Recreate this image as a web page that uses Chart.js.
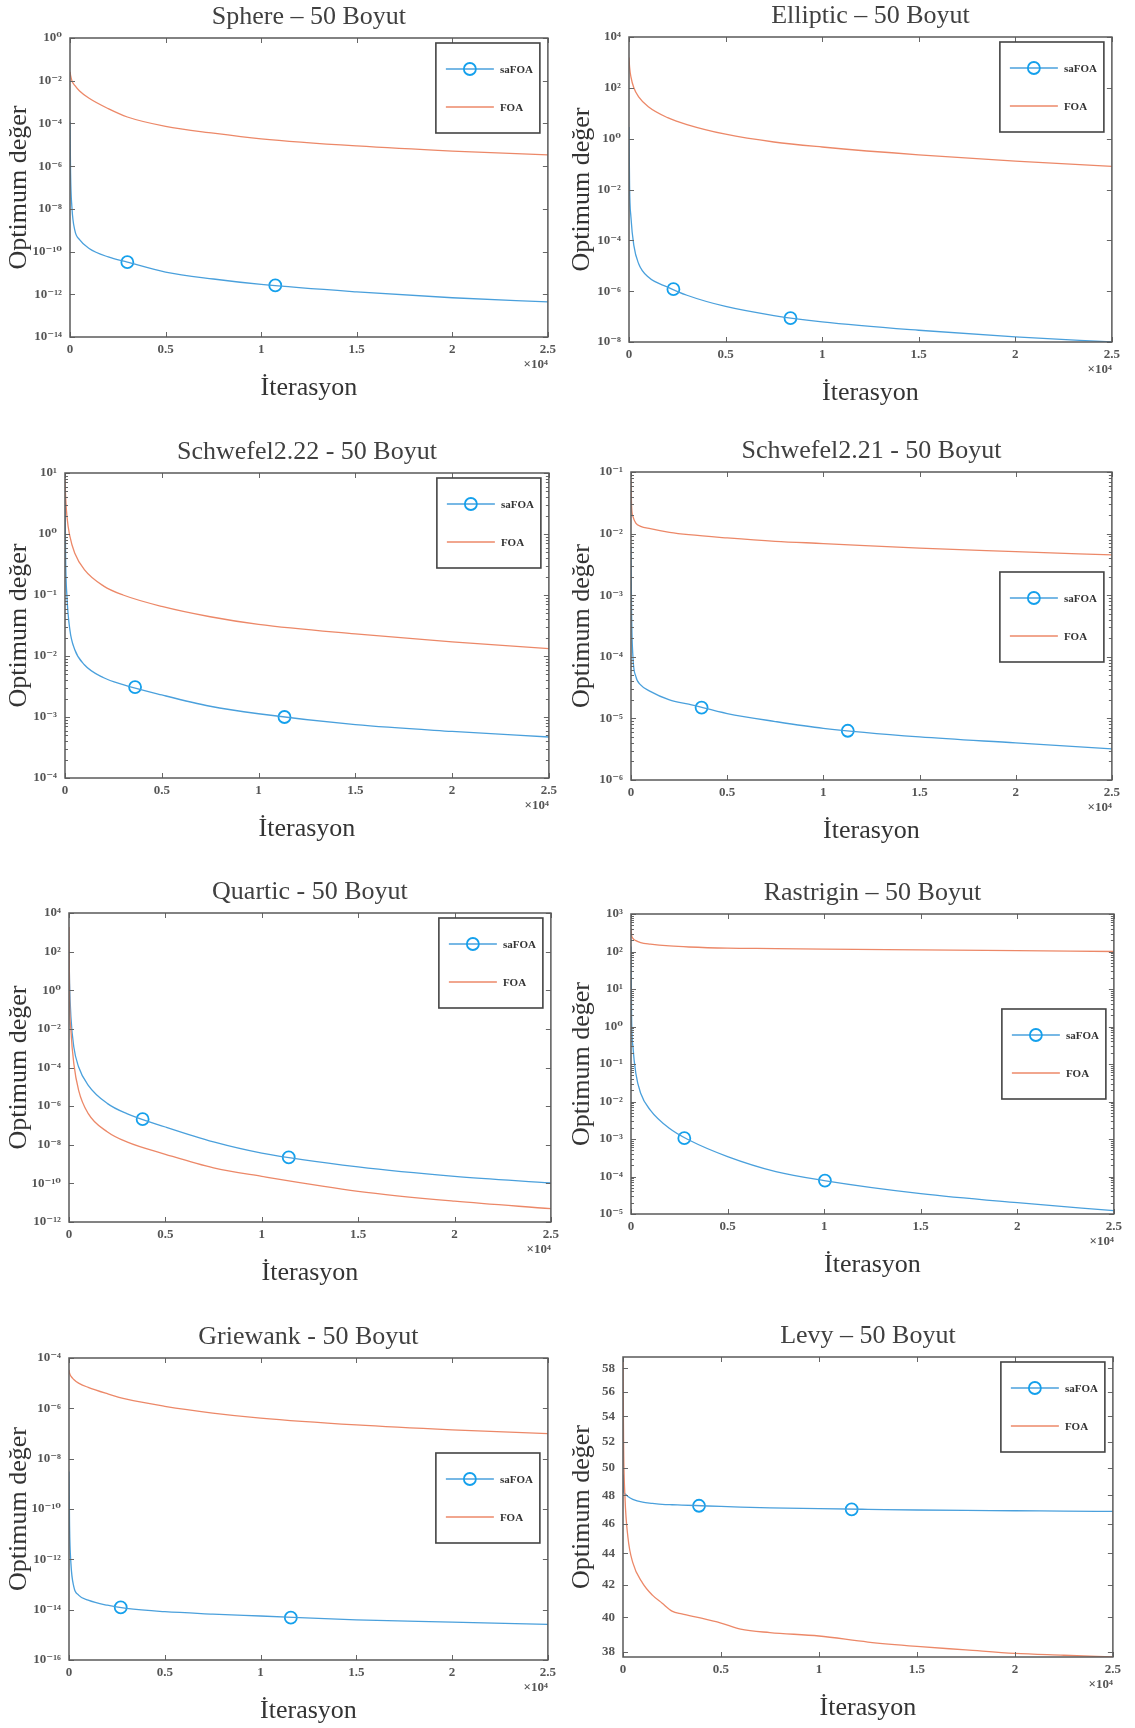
<!DOCTYPE html>
<html>
<head>
<meta charset="utf-8">
<script src="https://cdn.jsdelivr.net/npm/chart.js@4.4.1/dist/chart.umd.min.js"></script>
<style>
  body { margin: 0; background: #fff; }
  #page { position: relative; width: 1135px; height: 1728px; overflow: hidden; background: #fff; }
  #page canvas { position: absolute; }
</style>
</head>
<body>
<div id="page"></div>
<script>
// shared iteration grid and x axis ticks
const iters = [0, 30, 100, 250, 500, 1000, 2000, 3000, 5000, 7500, 10000, 15000, 20000, 25000];
const xTicks = [0, 5000, 10000, 15000, 20000, 25000];
const xTickLabels = ['0', '0.5', '1', '1.5', '2', '2.5'];

// Sphere
const sphereSa = [1.2e-4, 4.5e-7, 1.2e-8, 1e-9, 3.6e-10, 1.4e-10, 5.6e-11, 3.2e-11, 1.1e-11, 5.2e-12, 2.9e-12, 1.3e-12, 6.9e-13, 4.4e-13];
const sphereFoa = [2.6e-2, 1.8e-2, 1.0e-2, 6e-3, 3.3e-3, 1.5e-3, 4.9e-4, 2e-4, 7.3e-5, 3.5e-5, 1.9e-5, 8.8e-6, 5.1e-6, 3.4e-6];
const sphereMarkIter = [3000, 10740];
const sphereMarkVal = [3.2e-11, 2.6e-12];
const sphereTicks = [0, -2, -4, -6, -8, -10, -12, -14];

// Elliptic
const ellipticSa = [2.9, 1.3e-2, 8.3e-4, 6.3e-5, 1.2e-5, 3.6e-6, 1.45e-6, 6.9e-7, 2.5e-7, 1.1e-7, 6.2e-8, 2.9e-8, 1.6e-8, 1.0e-8];
const ellipticFoa = [1550, 660, 270, 100, 44, 18, 6.7, 3.6, 1.5, 0.74, 0.47, 0.23, 0.13, 0.081];
const ellipticMarkIter = [2300, 8360];
const ellipticMarkVal = [1.2e-6, 8.7e-8];
const ellipticTicks = [4, 2, 0, -2, -4, -6, -8];

// Schwefel 2.22
const schw222Sa = [5.3, 0.43, 0.095, 0.027, 0.0128, 7.2e-3, 4.4e-3, 3.4e-3, 2.3e-3, 1.5e-3, 1.13e-3, 7.5e-4, 5.8e-4, 4.7e-4];
const schw222Foa = [7.8, 4.2, 1.95, 0.92, 0.49, 0.26, 0.14, 0.1, 0.065, 0.044, 0.033, 0.023, 0.017, 0.0132];
const schw222MarkIter = [3620, 11340];
const schw222MarkVal = [3.1e-3, 1.0e-3];
const schw222Ticks = [1, 0, -1, -2, -3, -4];

// Schwefel 2.21
const schw221Sa = [6.2e-3, 5.1e-4, 1e-4, 4.8e-5, 3.5e-5, 2.75e-5, 2.0e-5, 1.7e-5, 1.2e-5, 8.9e-6, 6.9e-6, 5.0e-6, 4.0e-6, 3.2e-6];
const schw221Foa = [0.08, 0.0277, 0.019, 0.0148, 0.0131, 0.012, 0.0105, 9.6e-3, 8.5e-3, 7.5e-3, 6.9e-3, 5.8e-3, 5.1e-3, 4.5e-3];
const schw221MarkIter = [3670, 11270];
const schw221MarkVal = [1.5e-5, 6.3e-6];
const schw221Ticks = [-1, -2, -3, -4, -5, -6];

// Quartic
const quarticSa = [117, 2.2, 0.041, 1.15e-3, 1.07e-4, 1.2e-5, 1.35e-6, 4.1e-7, 8.3e-8, 1.4e-8, 3.7e-9, 7.1e-10, 2.3e-10, 1.05e-10];
const quarticFoa = [1900, 0.45, 8.3e-3, 1.6e-4, 6.6e-6, 4.1e-7, 4.6e-8, 1.4e-8, 3.2e-9, 6.3e-10, 2.3e-10, 3.9e-11, 1.2e-11, 4.9e-12];
const quarticMarkIter = [3820, 11400];
const quarticMarkVal = [2.1e-7, 2.2e-9];
const quarticTicks = [4, 2, 0, -2, -4, -6, -8, -10, -12];

// Rastrigin
const rastSa = [135, 1.8, 0.29, 0.056, 0.0166, 5.9e-3, 1.9e-3, 9.4e-4, 3.4e-4, 1.35e-4, 7.8e-5, 3.5e-5, 2.0e-5, 1.23e-5];
const rastFoa = [415, 275, 224, 195, 173, 158, 141, 132, 123, 120, 115, 110, 105, 100];
const rastMarkIter = [2760, 10040];
const rastMarkVal = [1.05e-3, 7.8e-5];
const rastTicks = [3, 2, 1, 0, -1, -2, -3, -4, -5];

// Griewank
const griewSa = [3.1e-9, 2e-11, 6.9e-13, 8.3e-14, 3.8e-14, 2.4e-14, 1.5e-14, 1.12e-14, 8.3e-15, 6.7e-15, 5.6e-15, 3.9e-15, 3.2e-15, 2.6e-15];
const griewFoa = [3.4e-5, 2.5e-5, 1.9e-5, 1.4e-5, 1.0e-5, 6.8e-6, 3.8e-6, 2.3e-6, 1.2e-6, 6.5e-7, 4.1e-7, 2.2e-7, 1.4e-7, 9.8e-8];
const griewMarkIter = [2700, 11580];
const griewMarkVal = [1.23e-14, 4.8e-15];
const griewTicks = [-4, -6, -8, -10, -12, -14, -16];

// Levy (own iteration grid, the FOA curve is stepped)
const levyIters = [0, 30, 100, 250, 500, 1000, 1500, 2000, 2500, 3000, 4000, 5000, 6000, 7500, 10000, 12500, 15000, 17500, 20000, 22500, 25000];
const levySa = [49.5, 48.25, 48.1, 47.9, 47.7, 47.5, 47.42, 47.35, 47.32, 47.3, 47.25, 47.2, 47.16, 47.1, 47.05, 47.0, 46.95, 46.92, 46.9, 46.87, 46.85];
const levyFoa = [59.0, 51.9, 47.9, 45.1, 43.4, 42.1, 41.35, 40.85, 40.37, 40.2, 39.95, 39.66, 39.3, 39.1, 38.9, 38.55, 38.3, 38.1, 37.9, 37.8, 37.7];
const levyMarkIter = [3880, 11670];
const levyMarkVal = [47.25, 47.0];
const levyTicks = [38, 40, 42, 44, 46, 48, 50, 52, 54, 56, 58];

const BLUE = '#4aa0dc';
const ORANGE = '#ec8868';
const MARKER = '#14a0ec';
const SERIF = '"Liberation Serif", "DejaVu Serif", serif';

const SUP = { '0': '⁰', '1': '¹', '2': '²', '3': '³', '4': '⁴', '5': '⁵', '6': '⁶', '7': '⁷', '8': '⁸', '9': '⁹', '-': '⁻' };
const pow10Label = (e) => '10' + String(e).split('').map(c => SUP[c]).join('');

// plot boxes [left, top, right, bottom] measured on the page
const panels = [
  { title: 'Sphere – 50 Boyut', x: iters, sa: sphereSa, foa: sphereFoa, mi: sphereMarkIter, mv: sphereMarkVal, exps: sphereTicks, box: [70, 38, 549, 337], yGap: 50, legTop: 5 },
  { title: 'Elliptic – 50 Boyut', x: iters, sa: ellipticSa, foa: ellipticFoa, mi: ellipticMarkIter, mv: ellipticMarkVal, exps: ellipticTicks, box: [629, 37, 1113, 342], yGap: 46, legTop: 5 },
  { title: 'Schwefel2.22 - 50 Boyut', x: iters, sa: schw222Sa, foa: schw222Foa, mi: schw222MarkIter, mv: schw222MarkVal, exps: schw222Ticks, minor: true, box: [65, 473, 550, 778], yGap: 45, legTop: 5 },
  { title: 'Schwefel2.21 - 50 Boyut', x: iters, sa: schw221Sa, foa: schw221Foa, mi: schw221MarkIter, mv: schw221MarkVal, exps: schw221Ticks, minor: true, box: [631, 472, 1113, 780], yGap: 48, legTop: 100 },
  { title: 'Quartic - 50 Boyut', x: iters, sa: quarticSa, foa: quarticFoa, mi: quarticMarkIter, mv: quarticMarkVal, exps: quarticTicks, box: [69, 913, 552, 1222], yGap: 49, legTop: 5 },
  { title: 'Rastrigin – 50 Boyut', x: iters, sa: rastSa, foa: rastFoa, mi: rastMarkIter, mv: rastMarkVal, exps: rastTicks, minor: true, box: [631, 914, 1115, 1214], yGap: 48, legTop: 95 },
  { title: 'Griewank - 50 Boyut', x: iters, sa: griewSa, foa: griewFoa, mi: griewMarkIter, mv: griewMarkVal, exps: griewTicks, box: [69, 1358, 549, 1660], yGap: 49, legTop: 95 },
  { title: 'Levy – 50 Boyut', x: levyIters, sa: levySa, foa: levyFoa, mi: levyMarkIter, mv: levyMarkVal, plain: levyTicks, yMin: 37.7, yMax: 59, box: [623, 1357, 1114, 1657], yGap: 40, legTop: 5 }
];

// MATLAB style box: inward ticks on all sides, x10^4 note and boxed legend
const matlabBox = {
  id: 'matlabBox',
  afterDatasetsDraw(chart, args, opts) {
    const { ctx, chartArea: a, scales: { x, y } } = chart;
    ctx.save();
    ctx.strokeStyle = '#666';
    ctx.lineWidth = 1;
    ctx.beginPath();
    x.ticks.forEach(t => {
      const px = Math.round(x.getPixelForValue(t.value)) + 0.5;
      ctx.moveTo(px, a.bottom); ctx.lineTo(px, a.bottom - 5);
      ctx.moveTo(px, a.top); ctx.lineTo(px, a.top + 5);
    });
    y.ticks.forEach(t => {
      const py = Math.round(y.getPixelForValue(t.value)) + 0.5;
      ctx.moveTo(a.left, py); ctx.lineTo(a.left + 5, py);
      ctx.moveTo(a.right, py); ctx.lineTo(a.right - 5, py);
    });
    if (opts.minor) {
      const lo = Math.floor(Math.log10(y.min)), hi = Math.ceil(Math.log10(y.max));
      for (let e = lo; e < hi; e++) {
        for (let m = 2; m < 10; m++) {
          const v = m * Math.pow(10, e);
          if (v <= y.min || v >= y.max) continue;
          const py = Math.round(y.getPixelForValue(v)) + 0.5;
          ctx.moveTo(a.left, py); ctx.lineTo(a.left + 3, py);
          ctx.moveTo(a.right, py); ctx.lineTo(a.right - 3, py);
        }
      }
    }
    ctx.stroke();
    ctx.strokeStyle = '#5a5a5a';
    ctx.lineWidth = 1.5;
    ctx.strokeRect(a.left, a.top, a.right - a.left, a.bottom - a.top);

    ctx.fillStyle = '#555';
    ctx.font = 'bold 13px ' + SERIF;
    ctx.textAlign = 'right';
    ctx.textBaseline = 'middle';
    ctx.fillText('×10⁴', a.right, a.bottom + 28);

    // legend
    const lw = 104, lh = 90;
    const lx = a.right - 8 - lw, ly = a.top + opts.legTop;
    ctx.fillStyle = '#fff';
    ctx.fillRect(lx, ly, lw, lh);
    ctx.strokeStyle = '#444';
    ctx.lineWidth = 1.6;
    ctx.strokeRect(lx, ly, lw, lh);
    const rows = [
      { label: 'saFOA', color: BLUE, dy: 26, mark: true },
      { label: 'FOA', color: ORANGE, dy: 64, mark: false }
    ];
    ctx.font = 'bold 11px ' + SERIF;
    ctx.textAlign = 'left';
    rows.forEach(r => {
      const ry = ly + r.dy;
      ctx.strokeStyle = r.color;
      ctx.lineWidth = 1.3;
      ctx.beginPath();
      ctx.moveTo(lx + 10, ry); ctx.lineTo(lx + 58, ry);
      ctx.stroke();
      if (r.mark) {
        ctx.strokeStyle = MARKER;
        ctx.lineWidth = 1.8;
        ctx.beginPath();
        ctx.arc(lx + 34, ry, 6, 0, Math.PI * 2);
        ctx.stroke();
      }
      ctx.fillStyle = '#333';
      ctx.fillText(r.label, lx + 64, ry + 1);
    });
    ctx.restore();
  }
};

const page = document.getElementById('page');
const TITLE_H = 36, XAXIS_H = 68, PAD_R = 12;

panels.forEach(p => {
  const [l, t, r, b] = p.box;
  const yW = p.yGap + 16;
  const canvas = document.createElement('canvas');
  canvas.width = (r - l) + yW + PAD_R;
  canvas.height = (b - t) + TITLE_H + XAXIS_H;
  canvas.style.left = (l - yW) + 'px';
  canvas.style.top = (t - TITLE_H) + 'px';
  page.appendChild(canvas);

  const isLog10 = !p.plain;
  const yTickVals = isLog10 ? p.exps.map(e => Math.pow(10, e)) : p.plain;
  const yMin = isLog10 ? Math.min(...yTickVals) : p.yMin;
  const yMax = isLog10 ? Math.max(...yTickVals) : p.yMax;

  new Chart(canvas, {
    type: 'line',
    data: {
      datasets: [
        {
          label: 'FOA',
          data: p.x.map((v, i) => ({ x: v, y: p.foa[i] })),
          borderColor: ORANGE,
          borderWidth: 1.3,
          pointRadius: 0,
          cubicInterpolationMode: 'monotone'
        },
        {
          label: 'saFOA',
          data: p.x.map((v, i) => ({ x: v, y: p.sa[i] })),
          borderColor: BLUE,
          borderWidth: 1.3,
          pointRadius: 0,
          cubicInterpolationMode: 'monotone'
        },
        {
          label: 'saFOA markers',
          data: p.mi.map((v, i) => ({ x: v, y: p.mv[i] })),
          showLine: false,
          pointRadius: 6,
          pointBorderWidth: 1.8,
          pointBorderColor: MARKER,
          pointBackgroundColor: 'rgba(0,0,0,0)'
        }
      ]
    },
    options: {
      responsive: false,
      animation: false,
      layout: { padding: { left: 0, top: 0, right: PAD_R, bottom: 0 } },
      scales: {
        x: {
          type: 'linear',
          min: 0,
          max: 25000,
          afterBuildTicks: (s) => { s.ticks = xTicks.map(v => ({ value: v })); },
          afterFit: (s) => { s.height = XAXIS_H; },
          grid: { display: false, drawTicks: false },
          border: { display: false },
          ticks: {
            autoSkip: false,
            maxRotation: 0,
            padding: 5,
            color: '#555',
            font: { family: SERIF, size: 13, weight: 'bold' },
            callback: (v) => xTickLabels[xTicks.indexOf(v)]
          },
          title: {
            display: true,
            text: 'İterasyon',
            color: '#333',
            padding: { top: 0, bottom: 1 },
            font: { family: SERIF, size: 26 }
          }
        },
        y: {
          type: 'logarithmic',
          min: yMin,
          max: yMax,
          afterBuildTicks: (s) => { s.ticks = yTickVals.map(v => ({ value: v })); },
          afterFit: (s) => { s.width = yW; },
          grid: { display: false, drawTicks: false },
          border: { display: false },
          ticks: {
            autoSkip: false,
            padding: 8,
            color: '#555',
            font: { family: SERIF, size: 13, weight: 'bold' },
            callback: (v) => isLog10 ? pow10Label(Math.round(Math.log10(v))) : String(v)
          },
          title: {
            display: true,
            text: 'Optimum değer',
            color: '#333',
            padding: { top: 0, bottom: 0 },
            font: { family: SERIF, size: 26 }
          }
        }
      },
      plugins: {
        legend: { display: false },
        tooltip: { enabled: false },
        title: {
          display: true,
          text: p.title,
          fullSize: false,
          color: '#404040',
          padding: { top: 0, bottom: TITLE_H - 31.2 },
          font: { family: SERIF, size: 26, weight: 'normal' }
        },
        matlabBox: { legTop: p.legTop, minor: !!p.minor }
      }
    },
    plugins: [matlabBox]
  });
});
</script>
</body>
</html>
